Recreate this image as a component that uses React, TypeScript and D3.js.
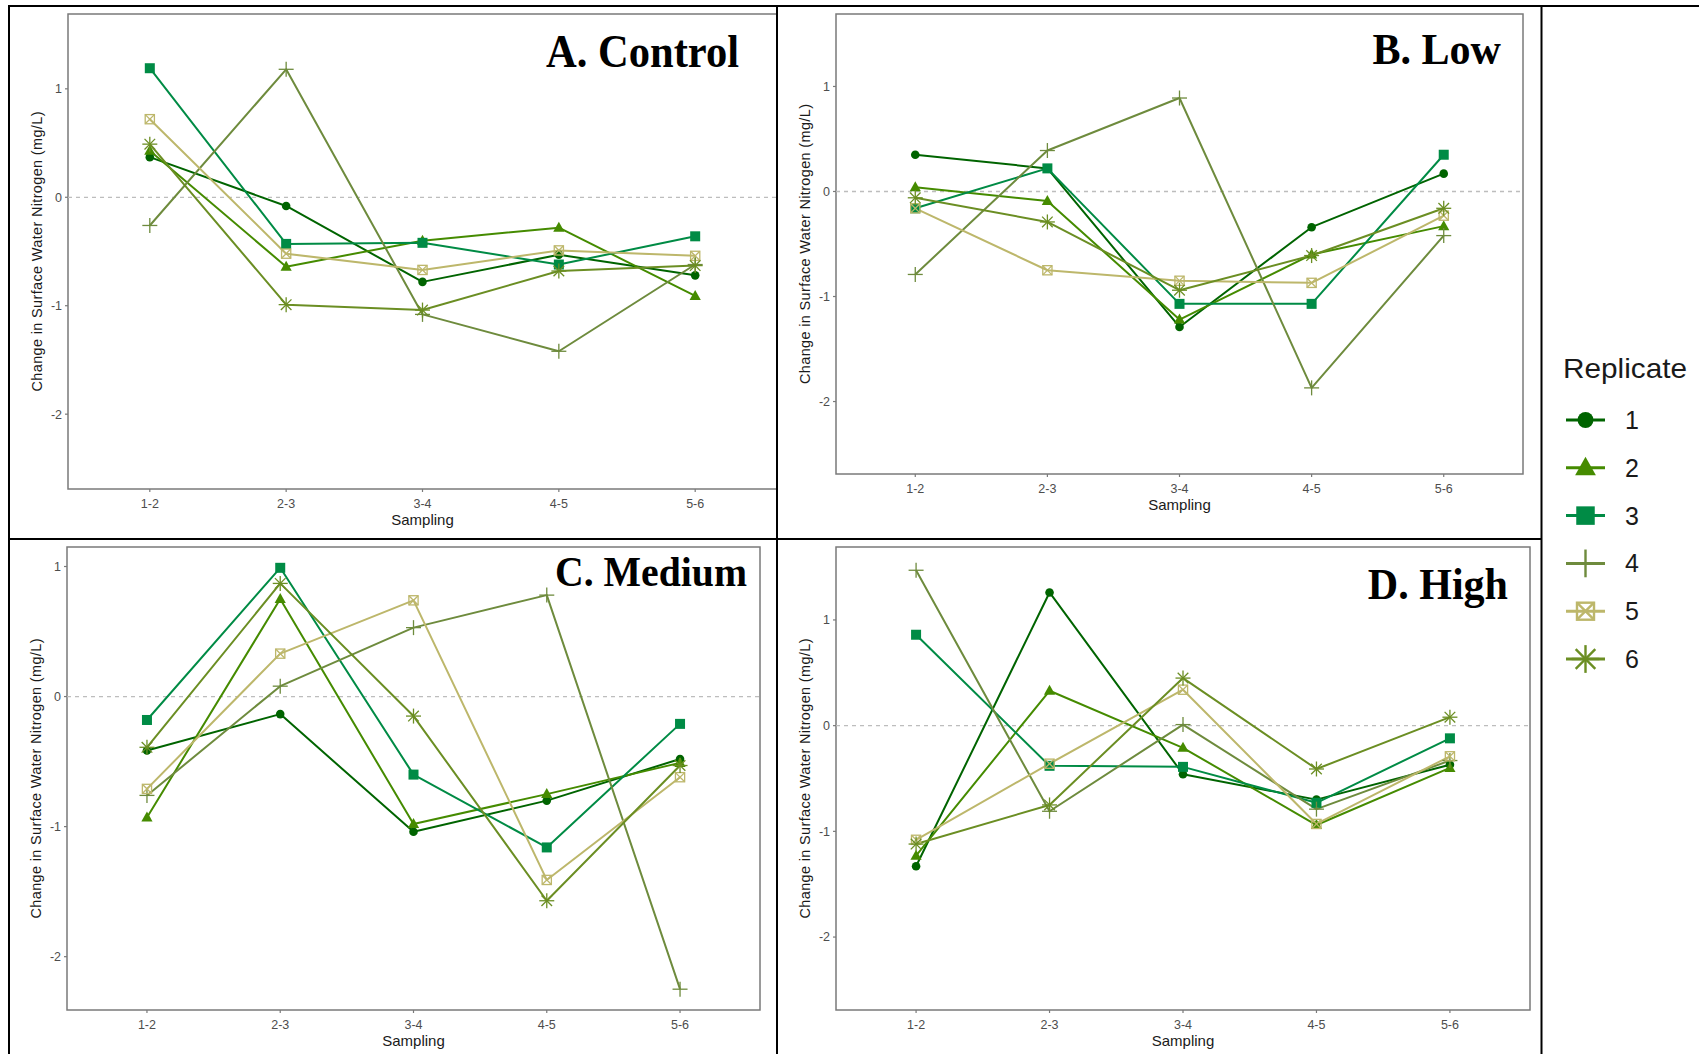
import React from "react";
import * as d3 from "d3";

const samplings = ["1-2", "2-3", "3-4", "4-5", "5-6"];
const replicates = ["1", "2", "3", "4", "5", "6"];
const replicateColors = ["#006400", "#458B00", "#008B45", "#6E8B3D", "#BDB76B", "#6B8E23"];
const replicateShapes = ["circle", "triangle", "square", "plus", "boxcross", "asterisk"];
const yTicks = [-2, -1, 0, 1];

// values per replicate (rows: replicate 1..6, columns: sampling 1-2 .. 5-6)
const controlValues = [
  [0.37, -0.08, -0.78, -0.53, -0.72],
  [0.43, -0.64, -0.4, -0.28, -0.91],
  [1.19, -0.43, -0.42, -0.62, -0.36],
  [-0.26, 1.18, -1.08, -1.42, -0.62],
  [0.72, -0.52, -0.67, -0.49, -0.54],
  [0.49, -0.99, -1.04, -0.68, -0.63],
];
const lowValues = [
  [0.35, 0.22, -1.29, -0.34, 0.17],
  [0.04, -0.09, -1.22, -0.6, -0.33],
  [-0.16, 0.22, -1.07, -1.07, 0.35],
  [-0.79, 0.39, 0.89, -1.87, -0.42],
  [-0.16, -0.75, -0.85, -0.87, -0.23],
  [-0.06, -0.29, -0.94, -0.61, -0.16],
];
const mediumValues = [
  [-0.415, -0.135, -1.04, -0.8, -0.48],
  [-0.93, 0.75, -0.98, -0.75, -0.51],
  [-0.18, 0.99, -0.6, -1.16, -0.21],
  [-0.76, 0.08, 0.53, 0.78, -2.25],
  [-0.71, 0.33, 0.74, -1.41, -0.62],
  [-0.39, 0.87, -0.15, -1.57, -0.53],
];
const highValues = [
  [-1.33, 1.26, -0.46, -0.7, -0.37],
  [-1.23, 0.33, -0.21, -0.94, -0.4],
  [0.86, -0.38, -0.39, -0.73, -0.12],
  [1.47, -0.81, 0.01, -0.79, -0.33],
  [-1.08, -0.36, 0.34, -0.93, -0.29],
  [-1.12, -0.75, 0.45, -0.41, 0.08],
];

const panels = [
  { title: "A. Control", values: controlValues, x0: 68, x1: 777, y0: 14, y1: 489, domain: [-2.69, 1.69], titleX: 739, titleY: 67, titleSize: 45.5 },
  { title: "B. Low", values: lowValues, x0: 836, x1: 1523, y0: 14, y1: 474, domain: [-2.69, 1.69], titleX: 1501, titleY: 64, titleSize: 45 },
  { title: "C. Medium", values: mediumValues, x0: 67, x1: 760, y0: 547, y1: 1010, domain: [-2.41, 1.15], titleX: 747, titleY: 586, titleSize: 42.5 },
  { title: "D. High", values: highValues, x0: 836, x1: 1530, y0: 547, y1: 1010, domain: [-2.69, 1.69], titleX: 1508, titleY: 599, titleSize: 45 },
];

const SANS = "'Liberation Sans', Arial, Helvetica, sans-serif";
const SERIF = "'Liberation Serif', 'Times New Roman', serif";

function Marker({ shape, x, y, color, s }: { shape: string; x: number; y: number; color: string; s: number }) {
  const sw = 1.3 * s;
  switch (shape) {
    case "circle":
      return <circle cx={x} cy={y} r={4.3 * s} fill={color} />;
    case "triangle": {
      const w = 5.6 * s;
      const h = 10 * s;
      return <path d={`M${x},${y - h * 0.6}L${x + w},${y + h * 0.4}L${x - w},${y + h * 0.4}Z`} fill={color} />;
    }
    case "square": {
      const a = 10 * s;
      return <rect x={x - a / 2} y={y - a / 2} width={a} height={a} fill={color} />;
    }
    case "plus": {
      const h = 7.5 * s;
      return (
        <g stroke={color} strokeWidth={sw}>
          <line x1={x - h} y1={y} x2={x + h} y2={y} />
          <line x1={x} y1={y - h} x2={x} y2={y + h} />
        </g>
      );
    }
    case "boxcross": {
      const h = 4.6 * s;
      return (
        <g stroke={color} strokeWidth={sw} fill="none">
          <rect x={x - h} y={y - h} width={2 * h} height={2 * h} />
          <line x1={x - h} y1={y - h} x2={x + h} y2={y + h} />
          <line x1={x - h} y1={y + h} x2={x + h} y2={y - h} />
        </g>
      );
    }
    case "asterisk": {
      const h = 7.5 * s;
      const d = 5.3 * s;
      return (
        <g stroke={color} strokeWidth={sw}>
          <line x1={x - h} y1={y} x2={x + h} y2={y} />
          <line x1={x} y1={y - h} x2={x} y2={y + h} />
          <line x1={x - d} y1={y - d} x2={x + d} y2={y + d} />
          <line x1={x - d} y1={y + d} x2={x + d} y2={y - d} />
        </g>
      );
    }
    default:
      return null;
  }
}

function Panel({ p }: { p: (typeof panels)[number] }) {
  const x = d3.scalePoint<string>().domain(samplings).range([p.x0, p.x1]).padding(0.6);
  const y = d3.scaleLinear().domain(p.domain).range([p.y1, p.y0]);
  const line = d3
    .line<number>()
    .x((_, i) => x(samplings[i]) as number)
    .y((v) => y(v));
  const cy = (p.y0 + p.y1) / 2;
  const cx = (p.x0 + p.x1) / 2;
  return (
    <g>
      <rect x={p.x0} y={p.y0} width={p.x1 - p.x0} height={p.y1 - p.y0} fill="#fff" stroke="#7a7a7a" strokeWidth={1.5} />
      <line x1={p.x0} x2={p.x1} y1={y(0)} y2={y(0)} stroke="#bdbdbd" strokeWidth={1.3} strokeDasharray="4,4" />
      {replicates.map((r, i) => (
        <path key={"l" + r} d={line(p.values[i]) || ""} fill="none" stroke={replicateColors[i]} strokeWidth={2} strokeLinejoin="round" />
      ))}
      {replicates.map((r, i) =>
        p.values[i].map((v, j) => (
          <Marker key={"m" + r + j} shape={replicateShapes[i]} x={x(samplings[j]) as number} y={y(v)} color={replicateColors[i]} s={1} />
        ))
      )}
      {yTicks.map((t) => (
        <g key={"yt" + t}>
          <line x1={p.x0 - 3} x2={p.x0} y1={y(t)} y2={y(t)} stroke="#7a7a7a" strokeWidth={1.2} />
          <text x={p.x0 - 6} y={y(t)} dy="0.35em" textAnchor="end" fontFamily={SANS} fontSize={12.5} fill="#4d4d4d">
            {t}
          </text>
        </g>
      ))}
      {samplings.map((s) => (
        <g key={"xt" + s}>
          <line x1={x(s)} x2={x(s)} y1={p.y1} y2={p.y1 + 3} stroke="#7a7a7a" strokeWidth={1.2} />
          <text x={x(s)} y={p.y1 + 18.5} textAnchor="middle" fontFamily={SANS} fontSize={12.5} fill="#4d4d4d">
            {s}
          </text>
        </g>
      ))}
      <text x={cx} y={p.y1 + 36} textAnchor="middle" fontFamily={SANS} fontSize={15} fill="#1a1a1a">
        Sampling
      </text>
      <text
        transform={`translate(${p.x0 - 26},${cy}) rotate(-90)`}
        textAnchor="middle"
        fontFamily={SANS}
        fontSize={14.5}
        fill="#1a1a1a"
        textLength={280}
        lengthAdjust="spacing"
      >
        Change in Surface Water Nitrogen (mg/L)
      </text>
      <text
        transform={`translate(${p.titleX},${p.titleY}) scale(0.935,1)`}
        textAnchor="end"
        fontFamily={SERIF}
        fontWeight="bold"
        fontSize={p.titleSize}
        fill="#000"
      >
        {p.title}
      </text>
    </g>
  );
}

export default function App() {
  const legendY = d3.scalePoint<string>().domain(replicates).range([420, 659]);
  return (
    <svg
      width={1699}
      height={1054}
      viewBox="0 0 1699 1054"
      style={{ position: "absolute", left: 0, top: 0, background: "#fff" }}
    >
      <rect x={0} y={0} width={1699} height={1054} fill="#fff" />
      {panels.map((p) => (
        <Panel key={p.title} p={p} />
      ))}
      {/* frame lines */}
      <g stroke="#000" strokeWidth={2}>
        <line x1={8} x2={1699} y1={6} y2={6} />
        <line x1={9} x2={9} y1={5} y2={1054} />
        <line x1={777} x2={777} y1={5} y2={1054} />
        <line x1={8} x2={1541} y1={539} y2={539} />
        <line x1={1541.5} x2={1541.5} y1={5} y2={1054} />
      </g>
      {/* legend */}
      <text x={1563} y={378} fontFamily={SANS} fontSize={28.5} fill="#1a1a1a" textLength={124} lengthAdjust="spacingAndGlyphs">
        Replicate
      </text>
      {replicates.map((r, i) => {
        const ly = legendY(r) as number;
        return (
          <g key={"lg" + r}>
            <line x1={1566} x2={1605} y1={ly} y2={ly} stroke={replicateColors[i]} strokeWidth={3} />
            <Marker shape={replicateShapes[i]} x={1585.5} y={ly} color={replicateColors[i]} s={1.85} />
            <text x={1625} y={ly + 9} fontFamily={SANS} fontSize={25} fill="#1a1a1a">
              {r}
            </text>
          </g>
        );
      })}
    </svg>
  );
}
